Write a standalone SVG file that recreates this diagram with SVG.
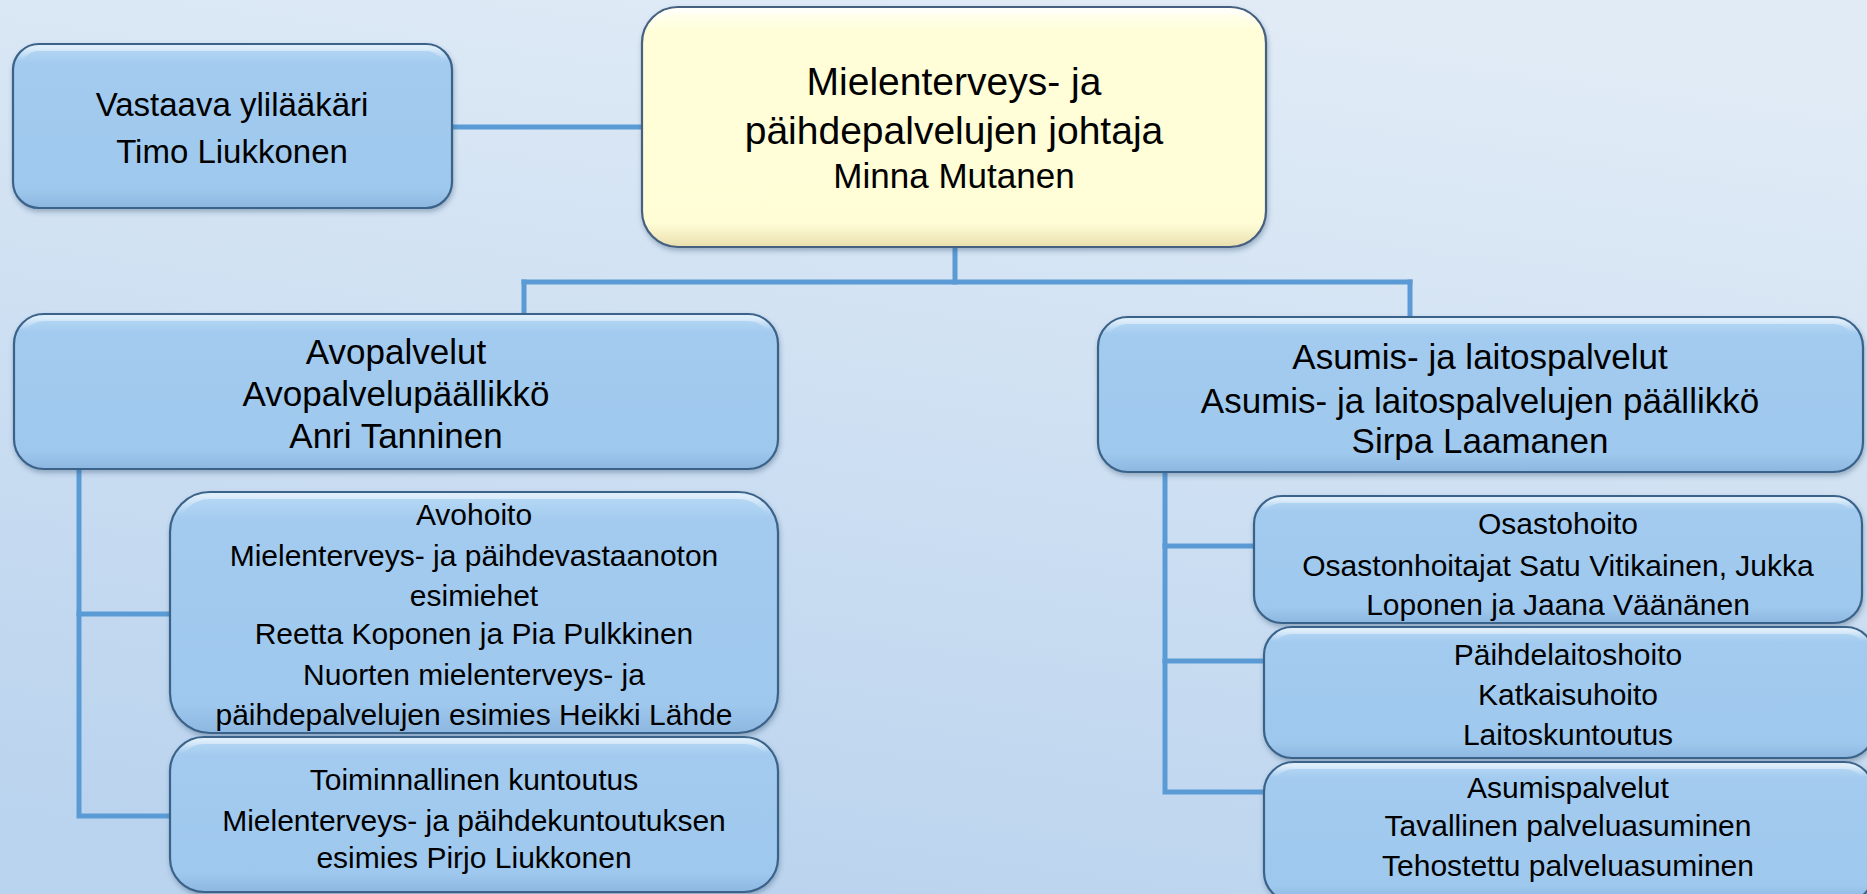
<svg xmlns="http://www.w3.org/2000/svg" width="1867" height="894" viewBox="0 0 1867 894">
<defs>
<linearGradient id="bg" x1="0.6" y1="0" x2="0.3" y2="1">
<stop offset="0" stop-color="#E0EBF6"/>
<stop offset="1" stop-color="#BAD3EE"/>
</linearGradient>
<linearGradient id="blue" x1="0" y1="0" x2="0" y2="1">
<stop offset="0" stop-color="#B9DAF5"/>
<stop offset="0.12" stop-color="#A3CBEF"/>
<stop offset="0.88" stop-color="#9FC8EE"/>
<stop offset="1" stop-color="#8DB7E0"/>
</linearGradient>
<linearGradient id="yellow" x1="0" y1="0" x2="0" y2="1">
<stop offset="0" stop-color="#FFFFF4"/>
<stop offset="0.1" stop-color="#FFFED8"/>
<stop offset="0.9" stop-color="#FFFDD6"/>
<stop offset="1" stop-color="#E9DFAE"/>
</linearGradient>
<linearGradient id="hl" x1="0" y1="0" x2="0" y2="1">
<stop offset="0" stop-color="#FFFFFF" stop-opacity="0.55"/>
<stop offset="0.08" stop-color="#FFFFFF" stop-opacity="0"/>
<stop offset="1" stop-color="#FFFFFF" stop-opacity="0"/>
</linearGradient>
<filter id="sh" x="-5%" y="-5%" width="110%" height="115%">
<feDropShadow dx="1" dy="3" stdDeviation="2.5" flood-color="#2A4A6A" flood-opacity="0.35"/>
</filter>
</defs>
<style>
.box{fill:url(#blue);stroke:#3B6289;stroke-width:2.2;filter:url(#sh)}
.main{fill:url(#yellow);stroke:#46607F;stroke-width:2.2;filter:url(#sh)}
.hl{fill:none;stroke:url(#hl);stroke-width:6}
.t{font-family:"Liberation Sans",Arial,sans-serif;text-anchor:middle;fill:#000}
.f39{font-size:39px}
.f35{font-size:35px}
.f33{font-size:33px}
.f30{font-size:30px}
.conn{fill:none;stroke:#5B9BD5;stroke-width:5;stroke-linecap:square}
</style>
<rect x="0" y="0" width="1867" height="894" fill="url(#bg)"/>
<g id="connectors">
<path class="conn" d="M452 127 H642"/>
<path class="conn" d="M955 247 V282"/>
<path class="conn" d="M524 282 H1410"/>
<path class="conn" d="M524 282 V314"/>
<path class="conn" d="M1410 282 V317"/>
<path class="conn" d="M79 469 V816 H170"/>
<path class="conn" d="M79 614 H170"/>
<path class="conn" d="M1165 472 V792 H1264"/>
<path class="conn" d="M1165 546 H1254"/>
<path class="conn" d="M1165 661 H1264"/>
</g>
<g id="vastaava">
<rect class="box" x="13" y="44" width="439" height="164" rx="26"/>
<rect class="hl" x="17" y="48" width="431" height="156" rx="22"/>
<text class="t f33" x="232" y="116">Vastaava ylilääkäri</text>
<text class="t f33" x="232" y="163">Timo Liukkonen</text>
</g>
<g id="johtaja">
<rect class="main" x="642" y="7" width="624" height="240" rx="36"/>
<rect class="hl" x="646" y="11" width="616" height="232" rx="32"/>
<text class="t f39" x="954" y="95">Mielenterveys- ja</text>
<text class="t f39" x="954" y="144">päihdepalvelujen johtaja</text>
<text class="t f35" x="954" y="188">Minna Mutanen</text>
</g>
<g id="avopalvelut">
<rect class="box" x="14" y="314" width="764" height="155" rx="30"/>
<rect class="hl" x="18" y="318" width="756" height="147" rx="26"/>
<text class="t f35" x="396" y="364">Avopalvelut</text>
<text class="t f35" x="396" y="406">Avopalvelupäällikkö</text>
<text class="t f35" x="396" y="448">Anri Tanninen</text>
</g>
<g id="avohoito">
<rect class="box" x="170" y="492" width="608" height="241" rx="40"/>
<rect class="hl" x="174" y="496" width="600" height="233" rx="36"/>
<text class="t f30" x="474" y="525">Avohoito</text>
<text class="t f30" x="474" y="566">Mielenterveys- ja päihdevastaanoton</text>
<text class="t f30" x="474" y="606">esimiehet</text>
<text class="t f30" x="474" y="644">Reetta Koponen ja Pia Pulkkinen</text>
<text class="t f30" x="474" y="685">Nuorten mielenterveys- ja</text>
<text class="t f30" x="474" y="725">päihdepalvelujen esimies Heikki Lähde</text>
</g>
<g id="toiminnallinen">
<rect class="box" x="170" y="737" width="608" height="155" rx="34"/>
<rect class="hl" x="174" y="741" width="600" height="147" rx="30"/>
<text class="t f30" x="474" y="790">Toiminnallinen kuntoutus</text>
<text class="t f30" x="474" y="831">Mielenterveys- ja päihdekuntoutuksen</text>
<text class="t f30" x="474" y="868">esimies Pirjo Liukkonen</text>
</g>
<g id="asumis">
<rect class="box" x="1098" y="317" width="765" height="155" rx="30"/>
<rect class="hl" x="1102" y="321" width="757" height="147" rx="26"/>
<text class="t f35" x="1480" y="369">Asumis- ja laitospalvelut</text>
<text class="t f35" x="1480" y="413">Asumis- ja laitospalvelujen päällikkö</text>
<text class="t f35" x="1480" y="453">Sirpa Laamanen</text>
</g>
<g id="osastohoito">
<rect class="box" x="1254" y="496" width="608" height="127" rx="28"/>
<rect class="hl" x="1258" y="500" width="600" height="119" rx="24"/>
<text class="t f30" x="1558" y="534">Osastohoito</text>
<text class="t f30" x="1558" y="576">Osastonhoitajat Satu Vitikainen, Jukka</text>
<text class="t f30" x="1558" y="615">Loponen ja Jaana Väänänen</text>
</g>
<g id="paihdelaitoshoito">
<rect class="box" x="1264" y="627" width="610" height="131" rx="28"/>
<rect class="hl" x="1268" y="631" width="602" height="123" rx="24"/>
<text class="t f30" x="1568" y="665">Päihdelaitoshoito</text>
<text class="t f30" x="1568" y="705">Katkaisuhoito</text>
<text class="t f30" x="1568" y="745">Laitoskuntoutus</text>
</g>
<g id="asumispalvelut">
<rect class="box" x="1264" y="762" width="610" height="140" rx="30"/>
<rect class="hl" x="1268" y="766" width="602" height="132" rx="26"/>
<text class="t f30" x="1568" y="798">Asumispalvelut</text>
<text class="t f30" x="1568" y="836">Tavallinen palveluasuminen</text>
<text class="t f30" x="1568" y="876">Tehostettu palveluasuminen</text>
</g>
</svg>
